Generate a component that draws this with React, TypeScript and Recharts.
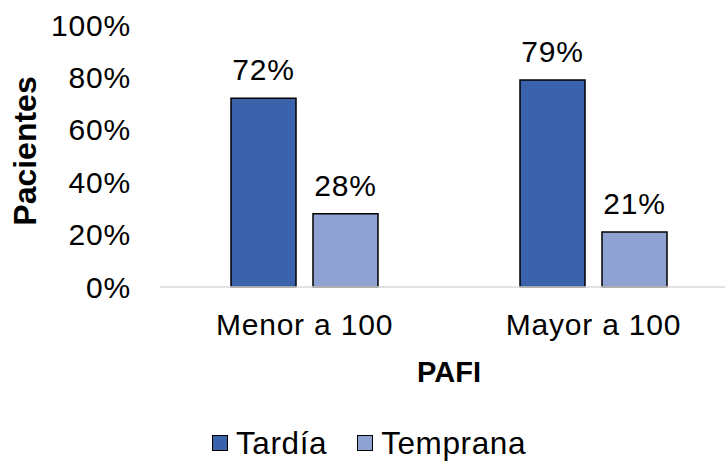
import React from 'react';
import { BarChart, Bar, XAxis, YAxis, Legend, LabelList } from 'recharts';

const categories = ['Menor a 100', 'Mayor a 100'];
const tardia = [72, 79];
const temprana = [28, 21];
const yTicks = [0, 20, 40, 60, 80, 100];

const seriesNames = { tardia: 'Tardía', temprana: 'Temprana' };
const colors = { tardia: '#3B63AC', temprana: '#8FA3D3' };

const data = categories.map((c, i) => ({ name: c, tardia: tardia[i], temprana: temprana[i] }));

const FONT = '"Liberation Sans", Arial, sans-serif';

const LegendContent = (props: any) => {
  const { payload = [] } = props;
  return (
    <div style={{ display: 'flex', justifyContent: 'center', alignItems: 'center', height: 36, fontFamily: FONT, fontSize: 31.5, letterSpacing: 0.6, color: '#000' }}>
      {payload.map((p: any, i: number) => (
        <div key={i} style={{ display: 'flex', alignItems: 'center', marginLeft: i > 0 ? 30 : 0 }}>
          <span style={{ display: 'inline-block', width: 14, height: 14, background: p.color, border: '1.5px solid #000', marginRight: 8 }} />
          <span style={{ lineHeight: '36px' }}>{p.value}</span>
        </div>
      ))}
    </div>
  );
};

export default function App() {
  return (
    <div style={{ position: 'absolute', left: 0, top: 0, width: 725, height: 462, overflow: 'hidden', background: '#fff' }}>
      <BarChart
        width={740}
        height={462}
        data={data}
        margin={{ top: 25, right: 2, left: 0, bottom: 1 }}
        barSize={65}
        barGap={17}
        style={{ fontFamily: FONT }}
      >
        <XAxis
          dataKey="name"
          height={138}
          tickLine={false}
          tickSize={0}
          tickMargin={27}
          axisLine={{ stroke: '#d9d9d9', strokeWidth: 1.5 }}
          tick={{ fill: '#000', fontSize: 30, letterSpacing: 0.8, fontFamily: FONT }}
          label={{ value: 'PAFI', position: 'insideBottom', offset: 43, fill: '#000', fontSize: 29, fontWeight: 'bold', fontFamily: FONT }}
        />
        <YAxis
          width={160}
          domain={[0, 100]}
          ticks={yTicks}
          tickFormatter={(v: number) => `${v}%`}
          tickLine={false}
          axisLine={false}
          tickSize={0}
          tickMargin={29}
          tick={{ fill: '#000', fontSize: 30, letterSpacing: 0.8, fontFamily: FONT }}
          label={{ value: 'Pacientes', angle: -90, position: 'center', dx: -55, dy: -5, fill: '#000', fontSize: 32, fontWeight: 'bold', fontFamily: FONT }}
        />
        <Legend verticalAlign="bottom" align="center" content={<LegendContent />} />
        <Bar dataKey="tardia" name={seriesNames.tardia} fill={colors.tardia} stroke="#000" strokeWidth={1.5} isAnimationActive={false}>
          <LabelList dataKey="tardia" position="top" offset={18} formatter={(v: any) => `${v}%`} fill="#000" fontSize={30} letterSpacing={0.8} fontFamily={FONT} />
        </Bar>
        <Bar dataKey="temprana" name={seriesNames.temprana} fill={colors.temprana} stroke="#000" strokeWidth={1.5} isAnimationActive={false}>
          <LabelList dataKey="temprana" position="top" offset={18} formatter={(v: any) => `${v}%`} fill="#000" fontSize={30} letterSpacing={0.8} fontFamily={FONT} />
        </Bar>
      </BarChart>
    </div>
  );
}
